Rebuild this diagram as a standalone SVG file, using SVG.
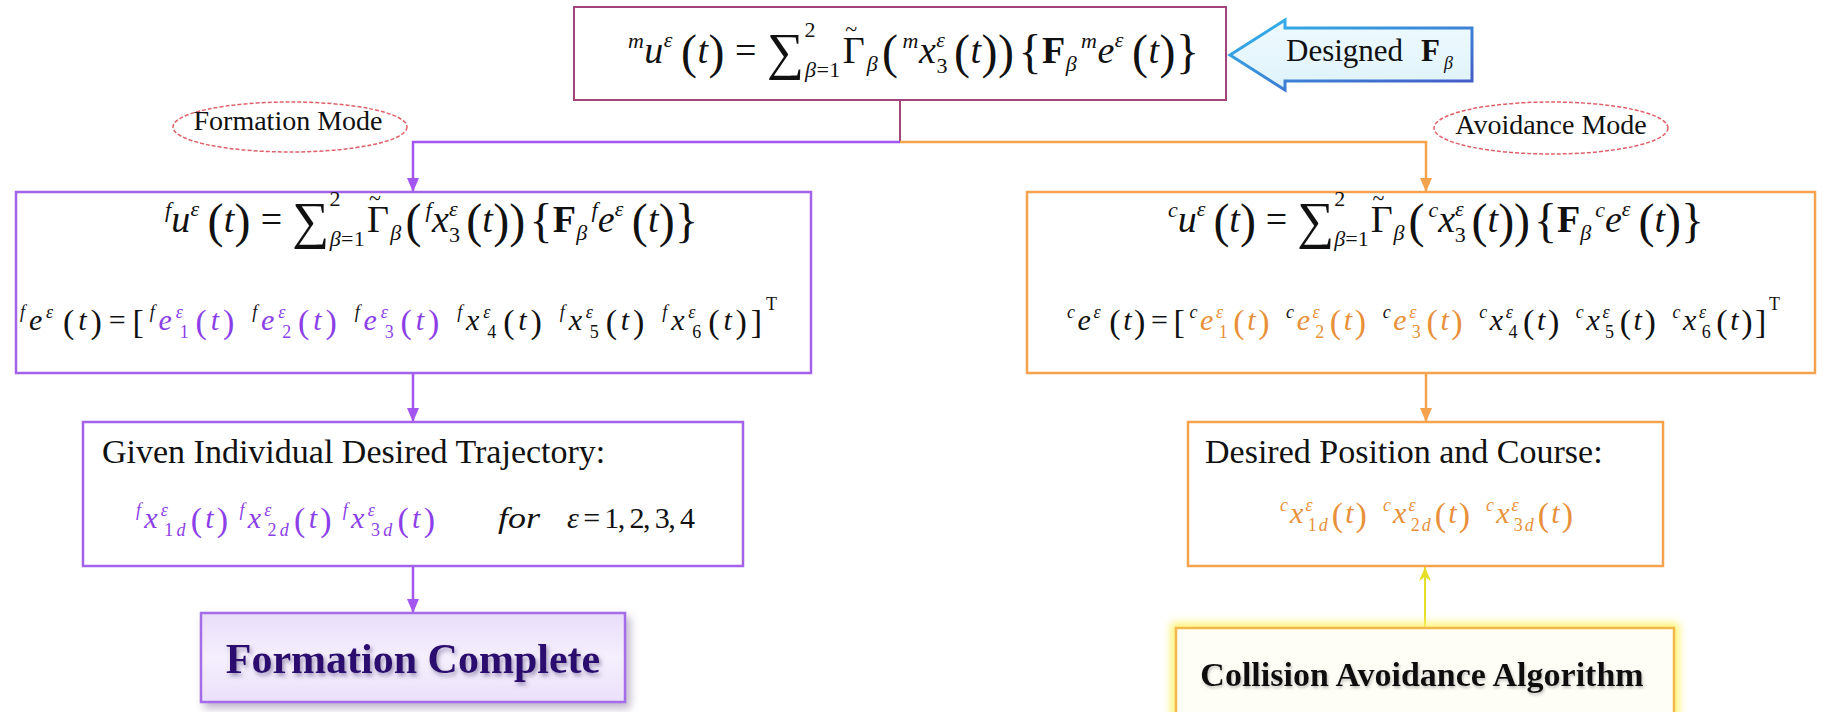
<svg xmlns="http://www.w3.org/2000/svg" width="1824" height="712" viewBox="0 0 1824 712">
<defs>
<style>
.t{font-family:"Liberation Serif","Times New Roman",serif;fill:#111}
.i{font-style:italic}
.A{font-size:38px}
.A .s{font-size:22px;font-style:italic}
.A .n{font-size:22px}
.A .p{font-size:48px}
.A .sum{font-size:52px}
.A .tl{font-size:22px}
.bf{font-weight:bold}
.B{font-size:30px}
.B .s{font-size:18px;font-style:italic}
.B .n{font-size:18px}
.B .p{font-size:34px}
.pu{fill:#8c3fe8}
.or{fill:#e8913a}
.lbl{font-size:28px}
.body{font-size:34px}
.box-m{fill:#fff;stroke:#a3457a;stroke-width:2}
.box-p{fill:#fff;stroke:#a362ea;stroke-width:2.5}
.box-o{fill:#fff;stroke:#f5a24e;stroke-width:2.5}
.ell{fill:#fff;stroke:#e0606a;stroke-width:1.5;stroke-dasharray:4 2}
.c-m{stroke:#a3457a;stroke-width:2;fill:none}
.c-p{stroke:#a356f0;stroke-width:2.5;fill:none}
.c-o{stroke:#f5a24e;stroke-width:2.5;fill:none}
.c-y{stroke:#e6df2a;stroke-width:2;fill:none}
</style>
<marker id="ap" viewBox="0 0 14 12" refX="14" refY="6" markerWidth="14" markerHeight="12" orient="auto" markerUnits="userSpaceOnUse"><path d="M0,0 L14,6 L0,12 z" fill="#a356f0"/></marker>
<marker id="ao" viewBox="0 0 14 12" refX="14" refY="6" markerWidth="14" markerHeight="12" orient="auto" markerUnits="userSpaceOnUse"><path d="M0,0 L14,6 L0,12 z" fill="#f5a24e"/></marker>
<marker id="ay" viewBox="0 0 14 12" refX="14" refY="6" markerWidth="14" markerHeight="12" orient="auto" markerUnits="userSpaceOnUse"><path d="M0,0 L14,6 L0,12 L4,6 z" fill="#e6df2a"/></marker>
<linearGradient id="fcg" x1="0" y1="0" x2="0" y2="1"><stop offset="0" stop-color="#e9ddfa"/><stop offset="0.5" stop-color="#f5effd"/><stop offset="1" stop-color="#ebe0fa"/></linearGradient>
<linearGradient id="dfill" x1="0" y1="0" x2="0" y2="1"><stop offset="0" stop-color="#eefafe"/><stop offset="1" stop-color="#dff3fb"/></linearGradient>
<linearGradient id="dstroke" x1="0" y1="0" x2="1" y2="1"><stop offset="0" stop-color="#30b8ec"/><stop offset="1" stop-color="#4656c4"/></linearGradient>
<filter id="sh" x="-10%" y="-20%" width="125%" height="150%"><feDropShadow dx="4" dy="5" stdDeviation="4" flood-color="#8a7aa0" flood-opacity="0.55"/></filter>
<filter id="tsh" x="-5%" y="-20%" width="110%" height="150%"><feDropShadow dx="2" dy="3" stdDeviation="2" flood-color="#6a5a8a" flood-opacity="0.6"/></filter>
<filter id="tsh2" x="-5%" y="-20%" width="110%" height="150%"><feDropShadow dx="1" dy="2" stdDeviation="1.5" flood-color="#777" flood-opacity="0.5"/></filter>
<filter id="glow" x="-10%" y="-30%" width="120%" height="160%"><feGaussianBlur stdDeviation="4"/></filter>
</defs>
<rect width="1824" height="712" fill="#fff"/>

<g id="connectors">
<path class="c-m" d="M900,100 V142"/>
<path class="c-p" d="M900,142 H413 V192" marker-end="url(#ap)"/>
<path class="c-o" d="M900,142 H1426 V192" marker-end="url(#ao)"/>
<path class="c-p" d="M413,373 V422" marker-end="url(#ap)"/>
<path class="c-p" d="M413,566 V613" marker-end="url(#ap)"/>
<path class="c-o" d="M1426,373 V422" marker-end="url(#ao)"/>
<path class="c-y" d="M1425,628 V567" marker-end="url(#ay)"/>
</g>

<g id="node-master">
<rect class="box-m" x="574" y="7" width="652" height="93"/>
<text class="t A" x="628" y="63" textLength="571" lengthAdjust="spacing"><tspan class="s" dy="-15">m</tspan><tspan class="i" dy="15">u</tspan><tspan class="s" dy="-16">ε</tspan><tspan class="p" dx="8" dy="21">(</tspan><tspan class="i" dy="-5">t</tspan><tspan class="p" dy="5">)</tspan><tspan dx="10" dy="-5">=</tspan><tspan class="sum" dx="10" dy="6">∑</tspan><tspan class="n" dy="-32">2</tspan><tspan class="s" dx="-11" dy="40">β</tspan><tspan class="n">=1</tspan><tspan dx="2" dy="-14">Γ</tspan><tspan class="tl" dx="-20" dy="-27">~</tspan><tspan class="s" dx="9" dy="35">β</tspan><tspan class="p" dx="4" dy="-3">(</tspan><tspan class="s" dx="4" dy="-20">m</tspan><tspan class="i" dy="15">x</tspan><tspan class="s" dy="-16">ε</tspan><tspan class="n" dx="-9" dy="26">3</tspan><tspan class="p" dx="6" dy="-5">(</tspan><tspan class="i" dy="-5">t</tspan><tspan class="p" dy="5">))</tspan><tspan class="p" dx="4">{</tspan><tspan class="bf" dy="-5">F</tspan><tspan class="s" dy="8">β</tspan><tspan class="s" dx="4" dy="-23">m</tspan><tspan class="i" dy="15">e</tspan><tspan class="s" dy="-16">ε</tspan><tspan class="p" dx="8" dy="21">(</tspan><tspan class="i" dy="-5">t</tspan><tspan class="p" dy="5">)}</tspan></text>
</g>

<g id="node-designed">
<path d="M1230,55 L1285,20 L1285,28 L1472,28 L1472,81 L1285,81 L1285,90 Z" fill="url(#dfill)" stroke="url(#dstroke)" stroke-width="3" stroke-linejoin="miter"/>
<text class="t" x="1286" y="61" font-size="31">Designed</text>
<text class="t bf" x="1421" y="61" font-size="31">F</text>
<text class="t i" x="1444" y="69" font-size="18">β</text>
</g>

<g id="label-formation-mode">
<ellipse class="ell" cx="290" cy="127" rx="117" ry="25"/>
<text class="t lbl" x="288" y="130" text-anchor="middle">Formation Mode</text>
</g>

<g id="label-avoidance-mode">
<ellipse class="ell" cx="1551" cy="128" rx="117" ry="26"/>
<text class="t lbl" x="1551" y="134" text-anchor="middle">Avoidance Mode</text>
</g>

<g id="node-formation-law">
<rect class="box-p" x="16" y="192" width="795" height="181"/>
<text class="t A" x="165" y="232" textLength="533" lengthAdjust="spacing"><tspan class="s" dy="-15">f</tspan><tspan class="i" dy="15">u</tspan><tspan class="s" dy="-16">ε</tspan><tspan class="p" dx="8" dy="21">(</tspan><tspan class="i" dy="-5">t</tspan><tspan class="p" dy="5">)</tspan><tspan dx="10" dy="-5">=</tspan><tspan class="sum" dx="10" dy="6">∑</tspan><tspan class="n" dy="-32">2</tspan><tspan class="s" dx="-11" dy="40">β</tspan><tspan class="n">=1</tspan><tspan dx="2" dy="-14">Γ</tspan><tspan class="tl" dx="-20" dy="-27">~</tspan><tspan class="s" dx="9" dy="35">β</tspan><tspan class="p" dx="4" dy="-3">(</tspan><tspan class="s" dx="4" dy="-20">f</tspan><tspan class="i" dy="15">x</tspan><tspan class="s" dy="-16">ε</tspan><tspan class="n" dx="-9" dy="26">3</tspan><tspan class="p" dx="6" dy="-5">(</tspan><tspan class="i" dy="-5">t</tspan><tspan class="p" dy="5">))</tspan><tspan class="p" dx="4">{</tspan><tspan class="bf" dy="-5">F</tspan><tspan class="s" dy="8">β</tspan><tspan class="s" dx="4" dy="-23">f</tspan><tspan class="i" dy="15">e</tspan><tspan class="s" dy="-16">ε</tspan><tspan class="p" dx="8" dy="21">(</tspan><tspan class="i" dy="-5">t</tspan><tspan class="p" dy="5">)}</tspan></text>
<text class="t B" x="20" y="330" textLength="757" lengthAdjust="spacing"><tspan class="s" dy="-12">f</tspan><tspan class="i" dy="12">e</tspan><tspan class="s" dy="-12">ε</tspan><tspan class="p" dx="6" dy="15">(</tspan><tspan class="i" dy="-3">t</tspan><tspan class="p" dy="3">)</tspan><tspan dx="3" dy="-3">=</tspan><tspan class="p" dx="3" dy="3">[</tspan><tspan class="s" dx="2" dy="-15">f</tspan><tspan class="i pu" dy="12">e</tspan><tspan class="s pu" dy="-12">ε</tspan><tspan class="n pu" dx="-7" dy="20">1</tspan><tspan class="p pu" dx="3" dy="-5">(</tspan><tspan class="i pu" dy="-3">t</tspan><tspan class="p pu" dy="3">)</tspan><tspan class="s" dx="14" dy="-15">f</tspan><tspan class="i pu" dy="12">e</tspan><tspan class="s pu" dy="-12">ε</tspan><tspan class="n pu" dx="-7" dy="20">2</tspan><tspan class="p pu" dx="3" dy="-5">(</tspan><tspan class="i pu" dy="-3">t</tspan><tspan class="p pu" dy="3">)</tspan><tspan class="s" dx="14" dy="-15">f</tspan><tspan class="i pu" dy="12">e</tspan><tspan class="s pu" dy="-12">ε</tspan><tspan class="n pu" dx="-7" dy="20">3</tspan><tspan class="p pu" dx="3" dy="-5">(</tspan><tspan class="i pu" dy="-3">t</tspan><tspan class="p pu" dy="3">)</tspan><tspan class="s" dx="14" dy="-15">f</tspan><tspan class="i" dy="12">x</tspan><tspan class="s" dy="-12">ε</tspan><tspan class="n" dx="-7" dy="20">4</tspan><tspan class="p" dx="3" dy="-5">(</tspan><tspan class="i" dy="-3">t</tspan><tspan class="p" dy="3">)</tspan><tspan class="s" dx="14" dy="-15">f</tspan><tspan class="i" dy="12">x</tspan><tspan class="s" dy="-12">ε</tspan><tspan class="n" dx="-7" dy="20">5</tspan><tspan class="p" dx="3" dy="-5">(</tspan><tspan class="i" dy="-3">t</tspan><tspan class="p" dy="3">)</tspan><tspan class="s" dx="14" dy="-15">f</tspan><tspan class="i" dy="12">x</tspan><tspan class="s" dy="-12">ε</tspan><tspan class="n" dx="-7" dy="20">6</tspan><tspan class="p" dx="3" dy="-5">(</tspan><tspan class="i" dy="-3">t</tspan><tspan class="p" dy="3">)</tspan><tspan class="p">]</tspan><tspan class="n" dy="-23">T</tspan></text>
</g>

<g id="node-avoidance-law">
<rect class="box-o" x="1027" y="192" width="788" height="181"/>
<text class="t A" x="1168" y="232" textLength="536" lengthAdjust="spacing"><tspan class="s" dy="-15">c</tspan><tspan class="i" dy="15">u</tspan><tspan class="s" dy="-16">ε</tspan><tspan class="p" dx="8" dy="21">(</tspan><tspan class="i" dy="-5">t</tspan><tspan class="p" dy="5">)</tspan><tspan dx="10" dy="-5">=</tspan><tspan class="sum" dx="10" dy="6">∑</tspan><tspan class="n" dy="-32">2</tspan><tspan class="s" dx="-11" dy="40">β</tspan><tspan class="n">=1</tspan><tspan dx="2" dy="-14">Γ</tspan><tspan class="tl" dx="-20" dy="-27">~</tspan><tspan class="s" dx="9" dy="35">β</tspan><tspan class="p" dx="4" dy="-3">(</tspan><tspan class="s" dx="4" dy="-20">c</tspan><tspan class="i" dy="15">x</tspan><tspan class="s" dy="-16">ε</tspan><tspan class="n" dx="-9" dy="26">3</tspan><tspan class="p" dx="6" dy="-5">(</tspan><tspan class="i" dy="-5">t</tspan><tspan class="p" dy="5">))</tspan><tspan class="p" dx="4">{</tspan><tspan class="bf" dy="-5">F</tspan><tspan class="s" dy="8">β</tspan><tspan class="s" dx="4" dy="-23">c</tspan><tspan class="i" dy="15">e</tspan><tspan class="s" dy="-16">ε</tspan><tspan class="p" dx="8" dy="21">(</tspan><tspan class="i" dy="-5">t</tspan><tspan class="p" dy="5">)}</tspan></text>
<text class="t B" x="1067" y="330" textLength="713" lengthAdjust="spacing"><tspan class="s" dy="-12">c</tspan><tspan class="i" dy="12">e</tspan><tspan class="s" dy="-12">ε</tspan><tspan class="p" dx="6" dy="15">(</tspan><tspan class="i" dy="-3">t</tspan><tspan class="p" dy="3">)</tspan><tspan dx="3" dy="-3">=</tspan><tspan class="p" dx="3" dy="3">[</tspan><tspan class="s" dx="2" dy="-15">c</tspan><tspan class="i or" dy="12">e</tspan><tspan class="s or" dy="-12">ε</tspan><tspan class="n or" dx="-7" dy="20">1</tspan><tspan class="p or" dx="3" dy="-5">(</tspan><tspan class="i or" dy="-3">t</tspan><tspan class="p or" dy="3">)</tspan><tspan class="s" dx="14" dy="-15">c</tspan><tspan class="i or" dy="12">e</tspan><tspan class="s or" dy="-12">ε</tspan><tspan class="n or" dx="-7" dy="20">2</tspan><tspan class="p or" dx="3" dy="-5">(</tspan><tspan class="i or" dy="-3">t</tspan><tspan class="p or" dy="3">)</tspan><tspan class="s" dx="14" dy="-15">c</tspan><tspan class="i or" dy="12">e</tspan><tspan class="s or" dy="-12">ε</tspan><tspan class="n or" dx="-7" dy="20">3</tspan><tspan class="p or" dx="3" dy="-5">(</tspan><tspan class="i or" dy="-3">t</tspan><tspan class="p or" dy="3">)</tspan><tspan class="s" dx="14" dy="-15">c</tspan><tspan class="i" dy="12">x</tspan><tspan class="s" dy="-12">ε</tspan><tspan class="n" dx="-7" dy="20">4</tspan><tspan class="p" dx="3" dy="-5">(</tspan><tspan class="i" dy="-3">t</tspan><tspan class="p" dy="3">)</tspan><tspan class="s" dx="14" dy="-15">c</tspan><tspan class="i" dy="12">x</tspan><tspan class="s" dy="-12">ε</tspan><tspan class="n" dx="-7" dy="20">5</tspan><tspan class="p" dx="3" dy="-5">(</tspan><tspan class="i" dy="-3">t</tspan><tspan class="p" dy="3">)</tspan><tspan class="s" dx="14" dy="-15">c</tspan><tspan class="i" dy="12">x</tspan><tspan class="s" dy="-12">ε</tspan><tspan class="n" dx="-7" dy="20">6</tspan><tspan class="p" dx="3" dy="-5">(</tspan><tspan class="i" dy="-3">t</tspan><tspan class="p" dy="3">)</tspan><tspan class="p">]</tspan><tspan class="n" dy="-23">T</tspan></text>
</g>

<g id="node-given-trajectory">
<rect class="box-p" x="83" y="422" width="660" height="144"/>
<text class="t body" x="102" y="463">Given Individual Desired Trajectory:</text>
<text class="t B pu" x="136" y="528" textLength="299" lengthAdjust="spacing"><tspan class="s" dy="-12">f</tspan><tspan class="i" dy="12">x</tspan><tspan class="s" dy="-12">ε</tspan><tspan class="n" dx="-7" dy="20">1</tspan><tspan class="s">d</tspan><tspan class="p" dx="2" dy="-5">(</tspan><tspan class="i" dy="-3">t</tspan><tspan class="p" dy="3">)</tspan><tspan class="s" dx="8" dy="-15">f</tspan><tspan class="i" dy="12">x</tspan><tspan class="s" dy="-12">ε</tspan><tspan class="n" dx="-7" dy="20">2</tspan><tspan class="s">d</tspan><tspan class="p" dx="2" dy="-5">(</tspan><tspan class="i" dy="-3">t</tspan><tspan class="p" dy="3">)</tspan><tspan class="s" dx="8" dy="-15">f</tspan><tspan class="i" dy="12">x</tspan><tspan class="s" dy="-12">ε</tspan><tspan class="n" dx="-7" dy="20">3</tspan><tspan class="s">d</tspan><tspan class="p" dx="2" dy="-5">(</tspan><tspan class="i" dy="-3">t</tspan><tspan class="p" dy="3">)</tspan></text>
<text class="t i" x="498" y="528" font-size="30" textLength="42" lengthAdjust="spacingAndGlyphs">for</text>
<text class="t" x="567" y="528" font-size="30" textLength="128" lengthAdjust="spacing"><tspan class="i">ε</tspan> = 1, 2, 3, 4</text>
</g>

<g id="node-formation-complete">
<rect x="201" y="613" width="424" height="89" fill="url(#fcg)" stroke="#a46ce8" stroke-width="2.5" filter="url(#sh)"/>
<text class="t bf" x="413" y="673" font-size="42" text-anchor="middle" fill="#2c0a6e" style="fill:#2c0a6e" filter="url(#tsh)">Formation Complete</text>
</g>

<g id="node-desired-position">
<rect class="box-o" x="1188" y="422" width="475" height="144"/>
<text class="t body" x="1205" y="463">Desired Position and Course:</text>
<text class="t B or" x="1280" y="523" textLength="293" lengthAdjust="spacing"><tspan class="s" dy="-12">c</tspan><tspan class="i" dy="12">x</tspan><tspan class="s" dy="-12">ε</tspan><tspan class="n" dx="-7" dy="20">1</tspan><tspan class="s">d</tspan><tspan class="p" dx="2" dy="-5">(</tspan><tspan class="i" dy="-3">t</tspan><tspan class="p" dy="3">)</tspan><tspan class="s" dx="14" dy="-15">c</tspan><tspan class="i" dy="12">x</tspan><tspan class="s" dy="-12">ε</tspan><tspan class="n" dx="-7" dy="20">2</tspan><tspan class="s">d</tspan><tspan class="p" dx="2" dy="-5">(</tspan><tspan class="i" dy="-3">t</tspan><tspan class="p" dy="3">)</tspan><tspan class="s" dx="14" dy="-15">c</tspan><tspan class="i" dy="12">x</tspan><tspan class="s" dy="-12">ε</tspan><tspan class="n" dx="-7" dy="20">3</tspan><tspan class="s">d</tspan><tspan class="p" dx="2" dy="-5">(</tspan><tspan class="i" dy="-3">t</tspan><tspan class="p" dy="3">)</tspan></text>
</g>

<g id="node-collision-avoidance">
<rect x="1176" y="628" width="498" height="120" fill="none" stroke="#fff36a" stroke-width="10" filter="url(#glow)"/>
<rect x="1176" y="628" width="498" height="120" fill="#fffef6" stroke="#f2b84b" stroke-width="2.5"/>
<text class="t bf" x="1422" y="686" font-size="34" text-anchor="middle" filter="url(#tsh2)">Collision Avoidance Algorithm</text>
</g>
</svg>
